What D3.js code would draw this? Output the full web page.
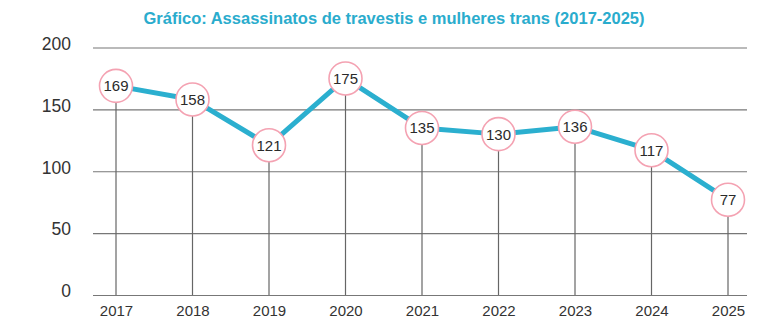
<!DOCTYPE html>
<html>
<head>
<meta charset="utf-8">
<script src="https://cdn.jsdelivr.net/npm/d3@7"></script>
<style>
  html, body { margin: 0; padding: 0; background: #fff; }
  svg { display: block; font-family: "Liberation Sans", Arial, sans-serif; }
</style>
</head>
<body>
<svg id="chart" width="782" height="334"></svg>
<script>
const years = ["2017", "2018", "2019", "2020", "2021", "2022", "2023", "2024", "2025"];
const values = [169, 158, 121, 175, 135, 130, 136, 117, 77];
const yTicks = [0, 50, 100, 150, 200];
const title = "Gráfico: Assassinatos de travestis e mulheres trans (2017-2025)";

(function () {
const svg = d3.select("#chart");
const mLeft = 93, mRight = 747, mTop = 47.5, mBottom = 295;

const x = d3.scalePoint().domain(years).range([116, 728]);
const y = d3.scaleLinear().domain([0, 200]).range([mBottom, mTop]);

const data = years.map((yr, i) => ({ year: yr, value: values[i] }));

// title
svg.append("text")
  .attr("x", 394).attr("y", 24)
  .attr("text-anchor", "middle")
  .attr("font-size", 16.5).attr("font-weight", "bold")
  .attr("fill", "#2aaccd")
  .text(title);

// horizontal gridlines
const yAxis = d3.axisLeft(y).tickValues(yTicks).tickSize(-(mRight - mLeft)).tickPadding(22);
const gy = svg.append("g").attr("transform", `translate(${mLeft},0)`).call(yAxis);
gy.select(".domain").remove();
gy.selectAll(".tick line").attr("stroke", "#777").attr("stroke-width", 1.2);
gy.selectAll(".tick text").attr("font-size", 17.5).attr("fill", "#333")
  .attr("font-family", "'Liberation Sans', Arial, sans-serif").attr("dy", "0.1em");

// x axis labels
const xAxis = d3.axisBottom(x).tickSize(0).tickPadding(10);
const gx = svg.append("g").attr("transform", `translate(0,${mBottom})`).call(xAxis);
gx.select(".domain").remove();
gx.selectAll(".tick text").attr("font-size", 15).attr("fill", "#333")
  .attr("font-family", "'Liberation Sans', Arial, sans-serif");

// vertical drop lines
svg.append("g").selectAll("line").data(data).join("line")
  .attr("x1", d => x(d.year)).attr("x2", d => x(d.year))
  .attr("y1", d => y(d.value)).attr("y2", y(0))
  .attr("stroke", "#666").attr("stroke-width", 1.2);

// main line
svg.append("path").datum(data)
  .attr("fill", "none").attr("stroke", "#2bafcf").attr("stroke-width", 5)
  .attr("stroke-linejoin", "round")
  .attr("d", d3.line().x(d => x(d.year)).y(d => y(d.value)));

// markers
const m = svg.append("g").selectAll("g").data(data).join("g")
  .attr("transform", d => `translate(${x(d.year)},${y(d.value)})`);
m.append("circle").attr("r", 16.5).attr("fill", "#fff")
  .attr("stroke", "#f4a2b2").attr("stroke-width", 1.6);
m.append("text").attr("text-anchor", "middle").attr("dy", "0.36em")
  .attr("font-size", 15).attr("fill", "#2a2a2a")
  .text(d => d.value);
})();
</script>
</body>
</html>
